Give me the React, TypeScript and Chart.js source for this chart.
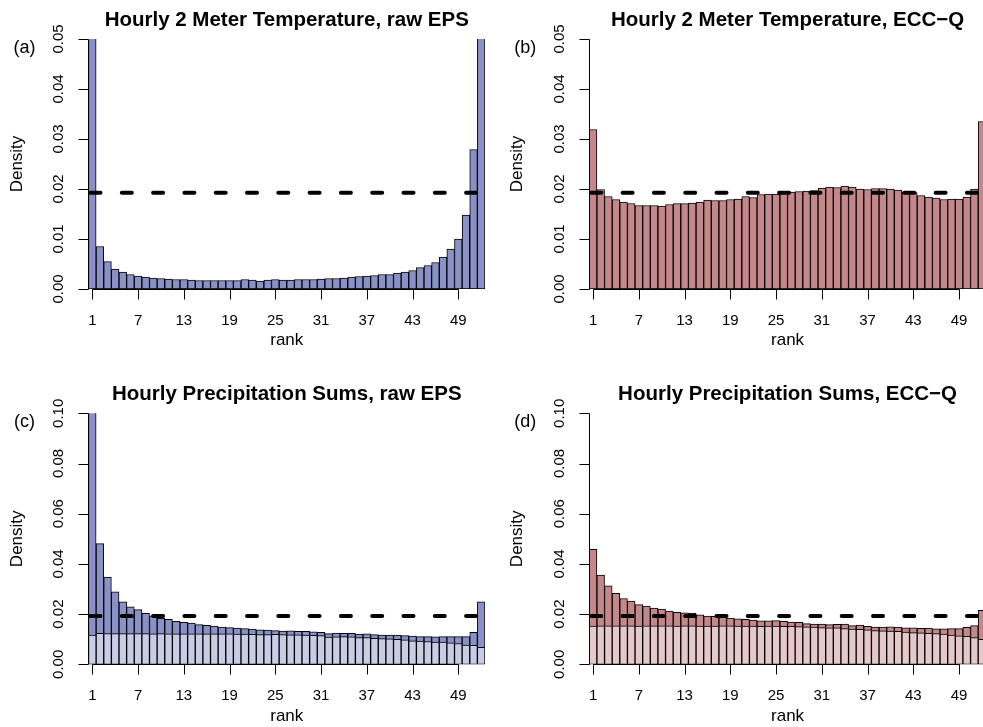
import React, { useEffect, useRef } from "react";
import { Chart, registerables } from "chart.js";

Chart.register(...registerables);

// ---------------- data ----------------
const RANKS = [
  "1", "2", "3", "4", "5", "6", "7", "8", "9", "10", "11", "12", "13",
  "14", "15", "16", "17", "18", "19", "20", "21", "22", "23", "24", "25", "26",
  "27", "28", "29", "30", "31", "32", "33", "34", "35", "36", "37", "38", "39",
  "40", "41", "42", "43", "44", "45", "46", "47", "48", "49", "50", "51", "52",
];
const X_TICK_LABELS = ["1", "7", "13", "19", "25", "31", "37", "43", "49"];
const UNIFORM_DENSITY = 1 / 52;
const TEMP_Y_TICKS = [0, 0.01, 0.02, 0.03, 0.04, 0.05];
const PRECIP_Y_TICKS = [0, 0.02, 0.04, 0.06, 0.08, 0.1];

const TEMP_RAW = [
  0.39, 0.0085, 0.0055, 0.004, 0.0034, 0.0029, 0.0026, 0.0024, 0.0022, 0.0021,
  0.002, 0.0019, 0.0019, 0.0018, 0.0017, 0.0017, 0.0017, 0.0017, 0.0017, 0.0017,
  0.0019, 0.0018, 0.0016, 0.0018, 0.0019, 0.0018, 0.0018, 0.0019, 0.0019, 0.0019,
  0.002, 0.0021, 0.0021, 0.0022, 0.0024, 0.0025, 0.0026, 0.0027, 0.0029, 0.0029,
  0.0032, 0.0034, 0.0037, 0.0043, 0.0047, 0.0053, 0.0064, 0.008, 0.01, 0.0148,
  0.0279, 0.43,
];
const TEMP_ECC = [
  0.0319, 0.0199, 0.0185, 0.0179, 0.0174, 0.0171, 0.0167, 0.0167, 0.0167, 0.0166,
  0.0169, 0.0171, 0.0171, 0.0172, 0.0174, 0.0178, 0.0177, 0.0177, 0.0179, 0.018,
  0.0185, 0.0183, 0.0189, 0.019, 0.019, 0.0192, 0.0194, 0.0195, 0.0196, 0.0197,
  0.0202, 0.0204, 0.0203, 0.0206, 0.0204, 0.02, 0.0199, 0.0201, 0.0201, 0.02,
  0.0198, 0.0194, 0.0193, 0.0187, 0.0184, 0.0182, 0.0179, 0.018, 0.018, 0.0184,
  0.02, 0.0335,
];
const PRECIP_RAW = [
  0.2, 0.0481, 0.0347, 0.0289, 0.0249, 0.0229, 0.0218, 0.0203, 0.0193, 0.0183,
  0.0179, 0.0171, 0.0167, 0.0164, 0.0158, 0.0155, 0.0152, 0.0148, 0.0146, 0.0144,
  0.0142, 0.014, 0.0137, 0.0136, 0.0134, 0.0132, 0.0133, 0.0131, 0.0131, 0.0129,
  0.0127, 0.0122, 0.0124, 0.0123, 0.0123, 0.012, 0.0121, 0.0118, 0.0116, 0.0116,
  0.0116, 0.0114, 0.0112, 0.011, 0.011, 0.0109, 0.011, 0.011, 0.011, 0.011,
  0.0127, 0.0249,
];
const PRECIP_RAW_PART = [
  0.0116, 0.0123, 0.0122, 0.0122, 0.0122, 0.0122, 0.0122, 0.0122, 0.0121, 0.0122,
  0.0121, 0.0121, 0.0121, 0.0121, 0.0121, 0.0121, 0.0121, 0.0121, 0.0121, 0.012,
  0.012, 0.0119, 0.0118, 0.0118, 0.0119, 0.0118, 0.0117, 0.0117, 0.0116, 0.0115,
  0.0114, 0.0108, 0.0109, 0.011, 0.0109, 0.0106, 0.0106, 0.0103, 0.0102, 0.0101,
  0.0099, 0.0097, 0.0094, 0.0093, 0.0091, 0.0089, 0.0089, 0.0086, 0.0083, 0.0077,
  0.0076, 0.0068,
];
const PRECIP_ECC = [
  0.0458, 0.0355, 0.0313, 0.0283, 0.0262, 0.0252, 0.0238, 0.0232, 0.0224, 0.022,
  0.0212, 0.0207, 0.0205, 0.0204, 0.0197, 0.0192, 0.0191, 0.0187, 0.0184, 0.0181,
  0.0179, 0.0176, 0.0173, 0.0173, 0.0174, 0.0171, 0.0168, 0.0167, 0.0162, 0.016,
  0.016, 0.0158, 0.0159, 0.016, 0.0154, 0.0156, 0.0151, 0.0148, 0.0148, 0.0149,
  0.0148, 0.0145, 0.0145, 0.0143, 0.0144, 0.0141, 0.0141, 0.0142, 0.0142, 0.0147,
  0.0154, 0.0215,
];
const PRECIP_ECC_PART = [
  0.0152, 0.0153, 0.0153, 0.0153, 0.0153, 0.0153, 0.0152, 0.0153, 0.0153, 0.0153,
  0.0153, 0.0152, 0.0153, 0.0153, 0.0152, 0.0152, 0.0152, 0.0153, 0.0153, 0.0152,
  0.0152, 0.0152, 0.0151, 0.0152, 0.0152, 0.0151, 0.0151, 0.015, 0.0149, 0.0148,
  0.0146, 0.0145, 0.0145, 0.0142, 0.014, 0.0139, 0.0137, 0.0134, 0.0133, 0.0132,
  0.0131, 0.0128, 0.0126, 0.0125, 0.0123, 0.0122, 0.012, 0.0116, 0.0113, 0.0111,
  0.0106, 0.0099,
];

const TITLES = [
  "Hourly 2 Meter Temperature, raw EPS",
  "Hourly 2 Meter Temperature, ECC\u2212Q",
  "Hourly Precipitation Sums, raw EPS",
  "Hourly Precipitation Sums, ECC\u2212Q",
];
const TAGS = ["(a)", "(b)", "(c)", "(d)"];
const X_LABEL = "rank";
const Y_LABEL = "Density";

// ---------------- styling / layout ----------------
const W = 1000;
const H = 727;
const FONT = "'Liberation Sans', Arial, Helvetica, sans-serif";
const BORDER = "#000000";
const BLUE = "#8991C7";
const BLUE_LIGHT = "#C8CCE5";
const RED = "#C4878A";
const RED_LIGHT = "#E5C8CA";

type Series = { values: number[]; color: string; order: number };
type Spec = {
  title: string;
  tag: string;
  left: number;
  right: number;
  top: number;
  bottom: number;
  yMax: number;
  yTicks: number[];
  series: Series[];
};

const SPECS: Spec[] = [
  {
    title: TITLES[0], tag: TAGS[0], left: 88.5, right: 485, top: 39, bottom: 289,
    yMax: 0.05, yTicks: TEMP_Y_TICKS,
    series: [{ values: TEMP_RAW, color: BLUE, order: 1 }],
  },
  {
    title: TITLES[1], tag: TAGS[1], left: 589.3, right: 985.8, top: 39, bottom: 289,
    yMax: 0.05, yTicks: TEMP_Y_TICKS,
    series: [{ values: TEMP_ECC, color: RED, order: 1 }],
  },
  {
    title: TITLES[2], tag: TAGS[2], left: 88.5, right: 485, top: 413.3, bottom: 664.3,
    yMax: 0.1, yTicks: PRECIP_Y_TICKS,
    series: [
      { values: PRECIP_RAW_PART, color: BLUE_LIGHT, order: 0 },
      { values: PRECIP_RAW, color: BLUE, order: 1 },
    ],
  },
  {
    title: TITLES[3], tag: TAGS[3], left: 589.3, right: 985.8, top: 413.3, bottom: 664.3,
    yMax: 0.1, yTicks: PRECIP_Y_TICKS,
    series: [
      { values: PRECIP_ECC_PART, color: RED_LIGHT, order: 0 },
      { values: PRECIP_ECC, color: RED, order: 1 },
    ],
  },
];

function decorPlugin(spec: Spec) {
  return {
    id: "decor",
    afterDatasetsDraw(chart: any) {
      const { ctx, chartArea: a } = chart;
      const y = chart.scales.y;
      const yy = y.getPixelForValue(UNIFORM_DENSITY);
      ctx.save();
      ctx.strokeStyle = "#000";
      ctx.lineWidth = 4;
      ctx.lineCap = "round";
      ctx.setLineDash([10, 21.3]);
      ctx.beginPath();
      ctx.moveTo(a.left + 2, yy);
      ctx.lineTo(a.right - 2, yy);
      ctx.stroke();
      ctx.restore();
    },
    afterDraw(chart: any) {
      const { ctx, chartArea: a } = chart;
      const x = chart.scales.x;
      const y = chart.scales.y;
      const y0 = y.getPixelForValue(0);
      const yTop = y.getPixelForValue(spec.yMax);
      const axX = Math.floor(a.left) + 0.5;
      const cx = (a.left + a.right) / 2;
      ctx.save();
      ctx.strokeStyle = "#000";
      ctx.fillStyle = "#000";
      ctx.lineWidth = 1;
      ctx.setLineDash([]);

      // y axis
      ctx.beginPath();
      ctx.moveTo(axX, Math.round(yTop) + 0.5);
      ctx.lineTo(axX, Math.round(y0) + 0.5);
      spec.yTicks.forEach((v) => {
        const py = Math.round(y.getPixelForValue(v)) + 0.5;
        ctx.moveTo(axX - 10, py);
        ctx.lineTo(axX, py);
      });
      ctx.stroke();

      ctx.font = `15px ${FONT}`;
      ctx.textAlign = "center";
      ctx.textBaseline = "middle";
      spec.yTicks.forEach((v) => {
        ctx.save();
        ctx.translate(a.left - 29.5, y.getPixelForValue(v));
        ctx.rotate(-Math.PI / 2);
        ctx.fillText(v.toFixed(2), 0, 0);
        ctx.restore();
      });

      // x axis
      const xs = X_TICK_LABELS.map((l) => x.getPixelForValue(RANKS.indexOf(l)));
      const by = Math.round(y0) + 0.5;
      ctx.beginPath();
      ctx.moveTo(Math.round(xs[0]) + 0.5, by);
      ctx.lineTo(Math.round(xs[xs.length - 1]) + 0.5, by);
      xs.forEach((px) => {
        ctx.moveTo(Math.round(px) + 0.5, by);
        ctx.lineTo(Math.round(px) + 0.5, by + 10);
      });
      ctx.stroke();
      X_TICK_LABELS.forEach((l, i) => {
        ctx.fillText(l, xs[i], y0 + 32);
      });

      // axis titles
      ctx.font = `17px ${FONT}`;
      ctx.fillText(X_LABEL, cx, y0 + 51.6);
      ctx.save();
      ctx.translate(a.left - 71.5, (y0 + yTop) / 2);
      ctx.rotate(-Math.PI / 2);
      ctx.fillText(Y_LABEL, 0, 0);
      ctx.restore();

      // panel tag
      ctx.font = `18px ${FONT}`;
      ctx.fillText(spec.tag, a.left - 64, yTop + 9);

      // main title
      ctx.font = `bold 20.5px ${FONT}`;
      ctx.textBaseline = "alphabetic";
      ctx.fillText(spec.title, cx, yTop - 13.3);
      ctx.restore();
    },
  };
}

function Panel({ spec }: { spec: Spec }) {
  const ref = useRef<HTMLCanvasElement | null>(null);
  useEffect(() => {
    if (!ref.current) return;
    const chart = new Chart(ref.current, {
      type: "bar",
      data: {
        labels: RANKS,
        datasets: spec.series.map((s) => ({
          data: s.values,
          backgroundColor: s.color,
          borderColor: BORDER,
          borderWidth: 1,
          borderSkipped: false,
          barPercentage: 1,
          categoryPercentage: 1,
          grouped: false,
          order: s.order,
          clip: 0,
        })) as any,
      },
      options: {
        responsive: false,
        animation: false,
        devicePixelRatio: 1,
        events: [],
        layout: {
          padding: {
            left: spec.left,
            top: spec.top,
            right: W - spec.right,
            bottom: H - spec.bottom,
          },
        },
        plugins: {
          legend: { display: false },
          tooltip: { enabled: false },
          title: { display: false },
        },
        scales: {
          x: { type: "category", offset: true, display: false },
          y: { type: "linear", min: 0, max: spec.yMax, display: false },
        },
      } as any,
      plugins: [decorPlugin(spec)],
    });
    return () => chart.destroy();
  }, [spec]);
  return (
    <canvas
      ref={ref}
      width={W}
      height={H}
      style={{ position: "absolute", left: 0, top: 0, width: W, height: H }}
    />
  );
}

export default function App() {
  return (
    <div
      style={{
        position: "absolute",
        left: 0,
        top: 0,
        width: 983,
        height: 727,
        overflow: "hidden",
        background: "#fff",
      }}
    >
      {SPECS.map((s, i) => (
        <Panel key={i} spec={s} />
      ))}
    </div>
  );
}
